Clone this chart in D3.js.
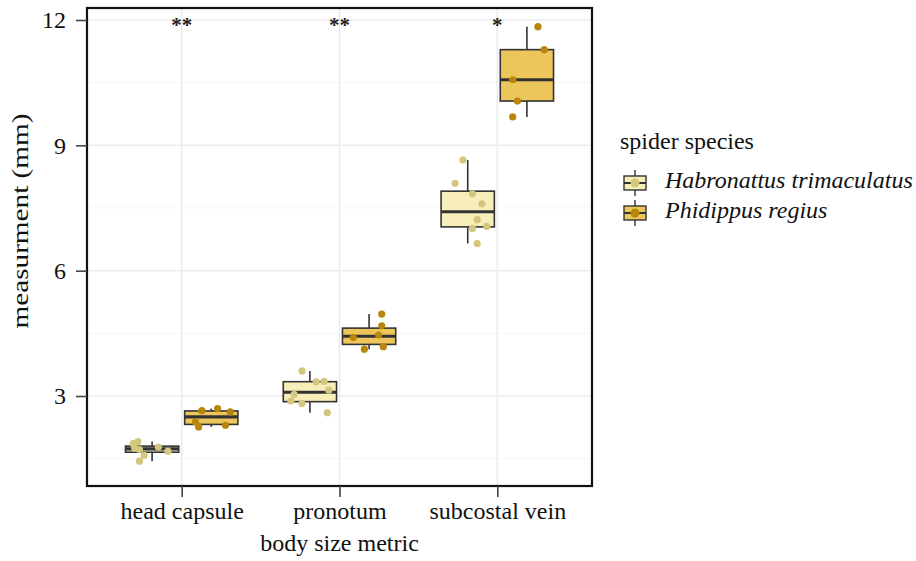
<!DOCTYPE html>
<html lang="en">
<head>
<meta charset="UTF-8">
<title>Spider body size</title>
<script src="https://cdnjs.cloudflare.com/ajax/libs/d3/7.8.5/d3.min.js"></script>
<style>
    body { margin: 0; background: #fff; }
    svg { display: block; font-family: "Liberation Serif", "Times New Roman", serif; }
</style>
</head>
<body>
<svg id="chart" width="916" height="561"></svg>
<script>
    // categories and groups
    const metrics = ["head capsule", "pronotum", "subcostal vein"];
    const species = ["Habronattus trimaculatus", "Phidippus regius"];
    const stars = ["**", "**", "*"];
    const yTicks = [3, 6, 9, 12];

    const habronattus = [
        [1.86, 1.91, 1.75, 1.72, 1.58, 1.44, 1.78, 1.68],
        [3.60, 3.34, 3.35, 3.14, 3.04, 2.88, 2.82, 2.60],
        [8.65, 8.09, 7.84, 7.60, 7.22, 7.01, 7.06, 6.65]
    ];
    const phidippus = [
        [2.65, 2.70, 2.62, 2.38, 2.26, 2.30],
        [4.96, 4.68, 4.40, 4.46, 4.12, 4.18],
        [11.84, 11.29, 10.57, 10.06, 9.68]
    ];
    // horizontal jitter of each point, as a fraction of the category step
    const habJitter = [
        [-0.12, -0.09, -0.11, -0.08, -0.05, -0.08, 0.04, 0.10],
        [-0.05, 0.04, 0.09, 0.12, -0.10, -0.12, -0.05, 0.11],
        [-0.03, -0.08, 0.03, 0.09, 0.06, 0.03, 0.12, 0.06]
    ];
    const phiJitter = [
        [-0.06, 0.04, 0.12, -0.10, -0.08, 0.09],
        [0.08, 0.08, -0.10, 0.06, -0.03, 0.09],
        [0.07, 0.11, -0.09, -0.06, -0.09]
    ];

    const fills = ["#f7eeba", "#ecc65b"];
    const dots = ["#d4c77d", "#b8860b"];
    const fontSize = 24;

    const svg = d3.select("#chart");
    const panel = { left: 87, right: 592, top: 8, bottom: 486 };

    const x = d3.scalePoint().domain(metrics).range([panel.left, panel.right]).padding(0.6);
    const step = x.step();
    const dodge = d3.scaleBand().domain(species).range([-step * 0.375, step * 0.375]);
    const y = d3.scaleLinear().domain([0.846, 12.287]).range([panel.bottom, panel.top]);
    const boxW = dodge.bandwidth() * 0.9;

    // grid
    const grid = svg.append("g");
    grid.selectAll(".minor").data([1.5, 4.5, 7.5, 10.5]).enter().append("line")
        .attr("x1", panel.left).attr("x2", panel.right)
        .attr("y1", d => y(d)).attr("y2", d => y(d))
        .attr("stroke", "#f4f4f4").attr("stroke-width", 1);
    grid.selectAll(".major").data(yTicks).enter().append("line")
        .attr("x1", panel.left).attr("x2", panel.right)
        .attr("y1", d => y(d)).attr("y2", d => y(d))
        .attr("stroke", "#ebebeb").attr("stroke-width", 1.5);
    grid.selectAll(".vert").data(metrics).enter().append("line")
        .attr("x1", d => x(d)).attr("x2", d => x(d))
        .attr("y1", panel.top).attr("y2", panel.bottom)
        .attr("stroke", "#ebebeb").attr("stroke-width", 1.5);

    // boxes
    const groups = [habronattus, phidippus];
    const jitters = [habJitter, phiJitter];
    groups.forEach((series, si) => {
        series.forEach((vals, mi) => {
            const sorted = vals.slice().sort(d3.ascending);
            const q1 = d3.quantile(sorted, 0.25);
            const med = d3.quantile(sorted, 0.5);
            const q3 = d3.quantile(sorted, 0.75);
            const iqr = q3 - q1;
            const lo = d3.min(sorted.filter(v => v >= q1 - 1.5 * iqr));
            const hi = d3.max(sorted.filter(v => v <= q3 + 1.5 * iqr));
            const cx = x(metrics[mi]) + dodge(species[si]) + dodge.bandwidth() / 2;
            const g = svg.append("g");
            g.append("line").attr("x1", cx).attr("x2", cx).attr("y1", y(hi)).attr("y2", y(q3))
                .attr("stroke", "#333").attr("stroke-width", 1.6);
            g.append("line").attr("x1", cx).attr("x2", cx).attr("y1", y(q1)).attr("y2", y(lo))
                .attr("stroke", "#333").attr("stroke-width", 1.6);
            g.append("rect")
                .attr("x", cx - boxW / 2).attr("width", boxW)
                .attr("y", y(q3)).attr("height", y(q1) - y(q3))
                .attr("fill", fills[si]).attr("stroke", "#333").attr("stroke-width", 1.6);
            g.append("line").attr("x1", cx - boxW / 2).attr("x2", cx + boxW / 2)
                .attr("y1", y(med)).attr("y2", y(med))
                .attr("stroke", "#333").attr("stroke-width", 3.2);
            g.selectAll("circle").data(vals).enter().append("circle")
                .attr("cx", (d, i) => cx + jitters[si][mi][i] * step)
                .attr("cy", d => y(d))
                .attr("r", 3.6)
                .attr("fill", dots[si]);
        });
    });

    // significance stars
    svg.selectAll(".star").data(metrics).enter().append("text")
        .attr("x", d => x(d)).attr("y", y(12) + 12)
        .attr("text-anchor", "middle").attr("font-size", 21).attr("font-weight", "bold")
        .attr("fill", "#222")
        .text((d, i) => stars[i]);

    // panel border
    svg.append("rect")
        .attr("x", panel.left).attr("y", panel.top)
        .attr("width", panel.right - panel.left).attr("height", panel.bottom - panel.top)
        .attr("fill", "none").attr("stroke", "#111").attr("stroke-width", 2.2);

    // axes
    const yAxis = svg.append("g").attr("transform", `translate(${panel.left},0)`)
        .call(d3.axisLeft(y).tickValues(yTicks).tickSize(11).tickPadding(10));
    const xAxis = svg.append("g").attr("transform", `translate(0,${panel.bottom})`)
        .call(d3.axisBottom(x).tickSize(11).tickPadding(5));
    [yAxis, xAxis].forEach(ax => {
        ax.select(".domain").remove();
        ax.selectAll(".tick line").attr("stroke", "#444").attr("stroke-width", 1.6);
        ax.selectAll(".tick text").attr("fill", "#111").attr("font-size", fontSize)
            .attr("font-family", "Liberation Serif, serif");
    });

    // axis titles
    svg.append("text")
        .attr("transform", "translate(28,221) rotate(-90)")
        .attr("text-anchor", "middle").attr("font-size", fontSize).attr("fill", "#111")
        .attr("textLength", 215).attr("lengthAdjust", "spacingAndGlyphs")
        .text("measurment (mm)");
    svg.append("text")
        .attr("x", (panel.left + panel.right) / 2).attr("y", 551)
        .attr("text-anchor", "middle").attr("font-size", fontSize).attr("fill", "#111")
        .text("body size metric");

    // legend
    const legend = svg.append("g").attr("transform", "translate(620,0)");
    legend.append("text").attr("x", 0).attr("y", 149)
        .attr("font-size", fontSize).attr("fill", "#111").text("spider species");
    species.forEach((s, i) => {
        const cy = 183 + i * 30;
        const k = legend.append("g");
        k.append("line").attr("x1", 15).attr("x2", 15).attr("y1", cy - 13).attr("y2", cy + 13)
            .attr("stroke", "#333").attr("stroke-width", 1.4);
        k.append("rect").attr("x", 4).attr("y", cy - 7).attr("width", 22).attr("height", 14)
            .attr("fill", fills[i]).attr("stroke", "#333").attr("stroke-width", 1.4);
        k.append("line").attr("x1", 4).attr("x2", 26).attr("y1", cy).attr("y2", cy)
            .attr("stroke", "#333").attr("stroke-width", 2);
        k.append("circle").attr("cx", 15).attr("cy", cy).attr("r", 4.5).attr("fill", dots[i]);
        k.append("text").attr("x", 45).attr("y", cy + 5)
            .attr("font-size", fontSize).attr("font-style", "italic").attr("fill", "#111").text(s);
    });
</script>
</body>
</html>
